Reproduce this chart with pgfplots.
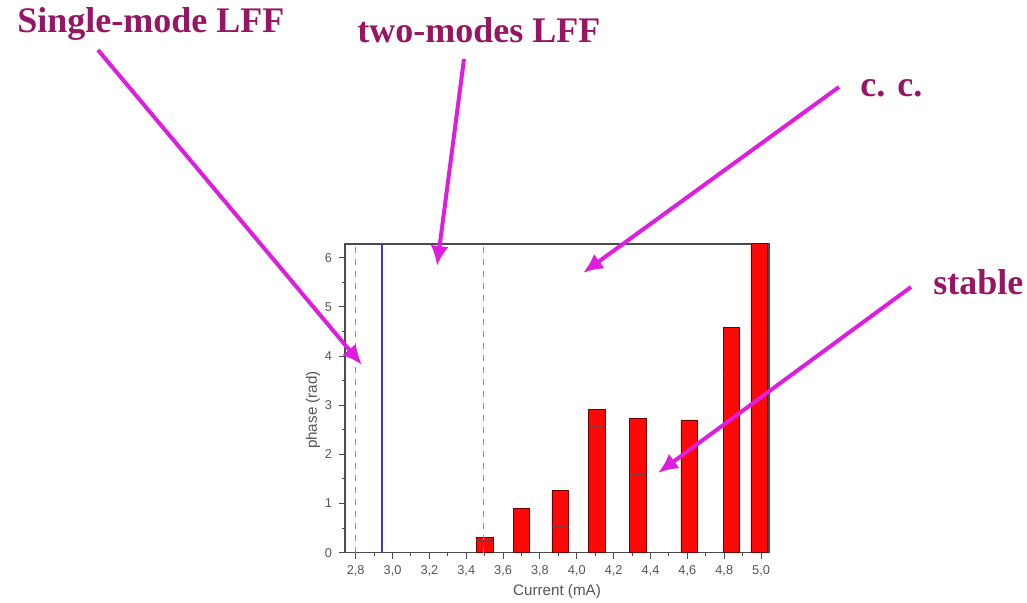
\documentclass[border=0pt]{standalone}
\usepackage{fontspec}
\setmainfont{Liberation Serif}
\newfontfamily\arial{Liberation Sans}
\usepackage{pgfplots}
\pgfplotsset{compat=1.18}
\usetikzlibrary{arrows.meta}
\definecolor{annot}{RGB}{150,22,100}
\definecolor{arr}{RGB}{222,30,222}
\definecolor{barred}{RGB}{255,8,8}
\definecolor{baredge}{RGB}{110,0,0}
\definecolor{vblue}{RGB}{60,60,200}
\definecolor{vgreen}{RGB}{70,200,70}
\definecolor{axgray}{RGB}{75,75,75}
\definecolor{lblgray}{RGB}{85,85,85}
\begin{document}
\begin{tikzpicture}
\useasboundingbox (0,0) rectangle (513.5pt,301.5pt);
\begin{axis}[
  at={(172.5pt,25.15pt)}, anchor=south west,
  scale only axis, width=212pt, height=154.35pt,
  xmin=2.742, xmax=5.043, ymin=0, ymax=6.28,
  axis line style={axgray, line width=0.6pt},
  xtick={2.8,3.0,...,5.01}, ytick={0,1,...,6},
  minor x tick num=1, minor y tick num=1,
  xtick pos=bottom, ytick pos=left,
  tick align=outside,
  major tick length=3pt, minor tick length=1.6pt,
  tick style={axgray, line width=0.5pt},
  /pgf/number format/assume math mode=true,
  xticklabel style={/pgf/number format/.cd, fixed, fixed zerofill, precision=1, use comma},
  yticklabel style={/pgf/number format/.cd, fixed, precision=0},
  tick label style={font=\arial\fontsize{6.4}{7}\selectfont, text=lblgray},
  xlabel={Current (mA)}, ylabel={phase (rad)},
  label style={font=\arial\fontsize{7.6}{9}\selectfont, text=lblgray},
  xlabel style={at={(axis description cs:0.5,-0.127)}, anchor=center},
  ylabel style={at={(axis description cs:-0.0755,0.462)}, anchor=center},
  clip=true,
]
\addplot[vgreen, dashed, line width=0.7pt] coordinates {(2.80,0) (2.80,6.28)};
\addplot[vblue, line width=1.1pt] coordinates {(2.944,0) (2.944,6.28)};
\addplot[ybar, bar width=0.09, fill=barred, draw=baredge, line width=0.4pt] coordinates {
  (3.50,0.31) (3.70,0.90) (3.91,1.27) (4.11,2.92) (4.33,2.74) (4.61,2.70) (4.84,4.58) (4.99,6.30)
};
\addplot[only marks, mark=-, mark size=4.2pt, baredge!80, line width=0.5pt] coordinates {
  (3.50,0.25) (3.91,0.53) (4.11,2.56) (4.33,1.60) (4.84,3.61)
};
\addplot[vgreen, dashed, line width=0.7pt] coordinates {(3.495,0) (3.495,6.28)};
\end{axis}
\begin{scope}[x=0.5pt, y=-0.5pt, yshift=301.5pt]
  \tikzset{ann/.style={font=\bfseries\fontsize{18}{20}\selectfont, text=annot, inner sep=0pt, anchor=base west},
           ar/.style={arr, line width=2pt, -{Latex[length=10pt,width=9pt]}}}
  \node[ann] at (17,33) {Single-mode LFF};
  \node[ann] at (357,43) {two-modes LFF};
  \node[ann] at (860,97) {c. c.};
  \node[ann] at (933,295) {stable};
  \draw[ar] (98,50) -- (362,365);
  \draw[ar] (464,59) -- (437,266);
  \draw[ar] (839,87) -- (583,273);
  \draw[ar] (911,287) -- (658,473);
\end{scope}
\end{tikzpicture}
\end{document}
